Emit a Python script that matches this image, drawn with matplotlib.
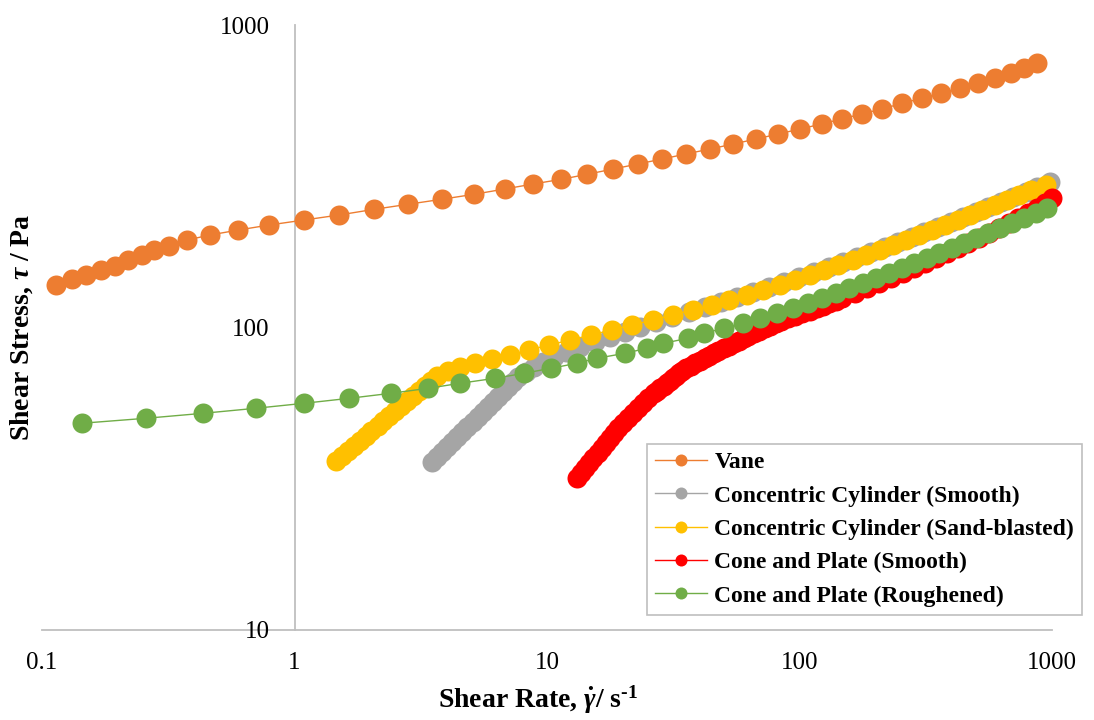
import matplotlib
matplotlib.use("Agg")
import matplotlib.pyplot as plt

plt.rcParams['font.family'] = ['Liberation Serif', 'DejaVu Serif']
plt.rcParams['mathtext.fontset'] = 'custom'
plt.rcParams['mathtext.rm'] = 'Liberation Serif:bold'
plt.rcParams['mathtext.it'] = 'Liberation Serif:italic:bold'
plt.rcParams['mathtext.bf'] = 'Liberation Serif:bold'

# flow curves, shear rate (1/s) vs shear stress (Pa)
vane_rate = [0.114, 0.131, 0.149, 0.171, 0.195, 0.220, 0.248, 0.278, 0.318, 0.376,
             0.463, 0.599, 0.795, 1.09, 1.50, 2.07, 2.82, 3.83, 5.15, 6.82,
             8.83, 11.4, 14.4, 18.3, 22.9, 28.6, 35.5, 44.2, 54.7, 67.3,
             82.4, 100.5, 122.4, 146.9, 176.3, 211.6, 255.4, 304.8, 362.4, 432.1,
             510.6, 594.6, 688.0, 774.5, 869.7]
vane_stress = [138.2, 144.3, 149.1, 155.0, 160.1, 167.2, 173.7, 180.4, 186.4, 194.7,
               202.2, 210.0, 218.2, 226.6, 235.4, 245.9, 255.5, 265.4, 275.7, 287.1,
               298.2, 309.0, 320.9, 334.2, 347.1, 360.6, 374.6, 389.1, 404.2, 419.9,
               436.2, 453.1, 470.7, 489.0, 507.9, 527.6, 551.0, 572.4, 594.6, 617.6,
               641.6, 666.5, 692.3, 719.2, 747.1]

cc_smooth_rate = [3.494, 3.660, 3.835, 4.018, 4.209, 4.410, 4.620, 4.840, 5.070, 5.311,
                  5.564, 5.828, 6.106, 6.396, 6.701, 7.022, 7.354, 7.703, 8.257, 8.883,
                  9.642, 10.66, 11.89, 13.51, 15.49, 17.76, 20.37, 23.35, 27.02, 31.26,
                  36.51, 42.25, 48.89, 56.56, 65.45, 75.72, 86.85, 99.54, 114.2, 130.3,
                  148.7, 169.0, 192.0, 217.2, 245.5, 277.8, 312.6, 352.0, 396.3, 446.1,
                  500.1, 560.3, 628.2, 703.9, 785.4, 876.0, 977.5]
cc_smooth_stress = [36.01, 37.41, 38.86, 40.37, 41.93, 43.56, 45.25, 47.00, 48.83, 50.72,
                    52.69, 54.73, 56.86, 59.06, 61.35, 63.73, 66.21, 68.77, 71.44, 74.21,
                    77.09, 80.08, 83.18, 86.41, 89.76, 93.25, 96.86, 100.6, 104.5, 108.6,
                    112.8, 117.2, 121.7, 126.4, 131.3, 136.4, 141.7, 147.2, 152.9, 158.9,
                    165.0, 171.4, 178.1, 185.0, 192.2, 199.6, 207.4, 215.4, 223.8, 232.5,
                    241.5, 250.9, 260.6, 270.7, 281.2, 292.1, 303.5]

cc_sand_rate = [1.460, 1.543, 1.629, 1.721, 1.809, 1.911, 2.018, 2.132, 2.251, 2.378,
                2.500, 2.641, 2.789, 2.946, 3.112, 3.287, 3.472, 3.667, 4.055, 4.523,
                5.186, 6.039, 7.106, 8.509, 10.20, 12.37, 14.94, 18.05, 21.77, 26.36,
                31.46, 37.76, 44.91, 52.72, 61.79, 71.88, 83.71, 95.98, 110.1, 125.6,
                142.7, 162.2, 183.4, 207.5, 234.6, 264.1, 297.4, 334.7, 376.9, 422.6,
                473.5, 530.5, 594.7, 663.5, 740.1, 825.6, 946.7]
cc_sand_stress = [36.21, 37.62, 39.08, 40.59, 42.17, 43.80, 45.50, 47.27, 49.10, 51.01,
                  52.99, 55.04, 57.18, 59.40, 61.70, 64.10, 66.58, 69.17, 71.54, 74.03,
                  76.31, 78.67, 81.11, 84.26, 87.53, 90.93, 94.45, 98.12, 101.9, 105.9,
                  110.0, 114.3, 118.7, 123.3, 128.1, 133.1, 138.2, 143.6, 149.2, 154.9,
                  161.0, 167.2, 173.7, 180.4, 187.4, 194.7, 202.3, 210.1, 218.3, 226.7,
                  235.5, 244.7, 254.2, 264.0, 274.3, 284.9, 296.0]

cp_smooth_rate = [13.11, 13.61, 14.14, 14.69, 15.27, 15.87, 16.49, 17.10, 17.76, 18.46,
                  19.17, 20.07, 21.01, 21.99, 23.02, 24.09, 25.21, 26.60, 27.37, 28.15,
                  28.96, 29.81, 30.67, 31.55, 32.45, 33.41, 34.37, 35.65, 37.14, 38.73,
                  40.36, 42.10, 43.86, 45.73, 47.77, 50.01, 52.34, 54.79, 57.34, 60.02,
                  62.80, 65.93, 69.31, 72.94, 76.68, 80.71, 84.86, 90.05, 96.24, 102.6,
                  109.6, 117.0, 123.8, 131.1, 139.1, 147.6, 165.5, 185.4, 206.9, 230.7,
                  256.3, 284.6, 314.6, 347.8, 384.6, 423.3, 465.8, 512.5, 561.4, 615.1,
                  673.9, 734.8, 801.3, 869.8, 939.8, 995.5]
cp_smooth_stress = [31.73, 32.96, 34.24, 35.57, 36.95, 38.38, 39.87, 41.42, 43.03, 44.70,
                    46.43, 48.24, 50.11, 52.05, 54.07, 56.17, 58.34, 60.61, 61.77, 62.96,
                    64.16, 65.40, 66.66, 67.93, 69.24, 70.57, 71.93, 73.31, 74.73, 76.15,
                    77.61, 79.10, 80.62, 82.17, 83.75, 85.36, 87.00, 88.67, 90.36, 92.11,
                    93.88, 95.69, 97.52, 99.39, 101.3, 103.3, 105.2, 107.3, 109.3, 111.4,
                    113.6, 115.7, 118.0, 120.2, 122.6, 124.9, 129.7, 134.8, 140.0, 145.5,
                    151.1, 157.0, 163.0, 169.4, 175.9, 182.8, 189.9, 197.2, 204.9, 212.8,
                    221.1, 229.6, 238.5, 247.8, 257.4, 267.4]

cp_rough_rate = [0.1436, 0.2582, 0.4353, 0.7023, 1.093, 1.649, 2.411, 3.388, 4.523, 6.223,
                 8.108, 10.37, 13.11, 15.73, 20.37, 24.82, 28.88, 36.17, 41.68, 50.23,
                 59.91, 69.75, 81.22, 94.50, 108.1, 122.4, 139.1, 157.4, 178.0, 200.4,
                 225.6, 254.0, 284.7, 319.0, 357.5, 400.6, 449.0, 501.0, 558.8, 623.6,
                 695.6, 776.2, 861.8, 957.2]
cp_rough_stress = [48.24, 50.11, 52.05, 54.07, 56.17, 58.34, 60.61, 62.96, 65.40, 67.93,
                   70.57, 73.31, 76.15, 79.10, 82.17, 85.36, 88.67, 92.11, 95.69, 99.39,
                   103.3, 107.3, 111.4, 115.7, 120.2, 124.9, 129.7, 134.8, 140.0, 145.5,
                   151.1, 157.0, 163.0, 169.4, 175.9, 182.8, 189.9, 197.2, 204.9, 212.8,
                   221.1, 229.6, 238.5, 247.8]

labels = ['Vane', 'Concentric Cylinder (Smooth)', 'Concentric Cylinder (Sand-blasted)',
          'Cone and Plate (Smooth)', 'Cone and Plate (Roughened)']
colors = ['#ED7D31', '#A5A5A5', '#FFC000', '#FF0000', '#70AD47']
series = [(vane_rate, vane_stress), (cc_smooth_rate, cc_smooth_stress),
          (cc_sand_rate, cc_sand_stress), (cp_smooth_rate, cp_smooth_stress),
          (cp_rough_rate, cp_rough_stress)]

x_ticks = [0.1, 1, 10, 100, 1000]
x_ticklabels = ['0.1', '1', '10', '100', '1000']
y_ticks = [10, 100, 1000]
y_ticklabels = ['10', '100', '1000']

fig = plt.figure(figsize=(10.94, 7.2), dpi=100)
ax = fig.add_axes([42 / 1094, 90 / 720, 1010 / 1094, 605 / 720])

for (x, y), c, lab in zip(series, colors, labels):
    ax.plot(x, y, '-o', color=c, lw=1.0, ms=14.4, mew=0, label=lab, clip_on=False)

ax.set_xscale('log')
ax.set_yscale('log')
ax.set_xlim(0.1, 1000)
ax.set_ylim(10, 1000)
ax.set_xticks(x_ticks)
ax.set_xticklabels(x_ticklabels)
ax.set_yticks(y_ticks)
ax.set_yticklabels(y_ticklabels)
ax.minorticks_off()

# value axis crosses at x = 1
ax.spines['top'].set_visible(False)
ax.spines['right'].set_visible(False)
ax.spines['left'].set_position(('data', 1))
for s in ['left', 'bottom']:
    ax.spines[s].set_color('#BFBFBF')
    ax.spines[s].set_linewidth(1.3)
    ax.spines[s].set_zorder(0.5)
ax.tick_params(axis='both', length=0, labelsize=18, colors='black')
ax.tick_params(axis='y', pad=18)
ax.tick_params(axis='x', pad=16)

leg = ax.legend(loc='lower left', bbox_to_anchor=(647 / 1094, 105 / 720),
                bbox_transform=fig.transFigure, fancybox=False, framealpha=1,
                edgecolor='#BFBFBF', prop={'weight': 'bold', 'size': 17},
                markerscale=0.6, handlelength=2.2, handletextpad=0.3,
                labelspacing=0.5, borderpad=0.35, borderaxespad=0)
leg.get_frame().set_linewidth(1.2)

fig.text(22 / 1094, 1 - 327 / 720, r'Shear Stress, $\tau$ / Pa', rotation=90,
         ha='center', va='center', fontsize=20, fontweight='bold')
fig.text(538 / 1094, 1 - 700 / 720, r'Shear Rate, $\dot{\gamma}$/ s$^{\text{-1}}$',
         ha='center', va='center', fontsize=20, fontweight='bold')

fig.savefig('out.png', dpi=100)
